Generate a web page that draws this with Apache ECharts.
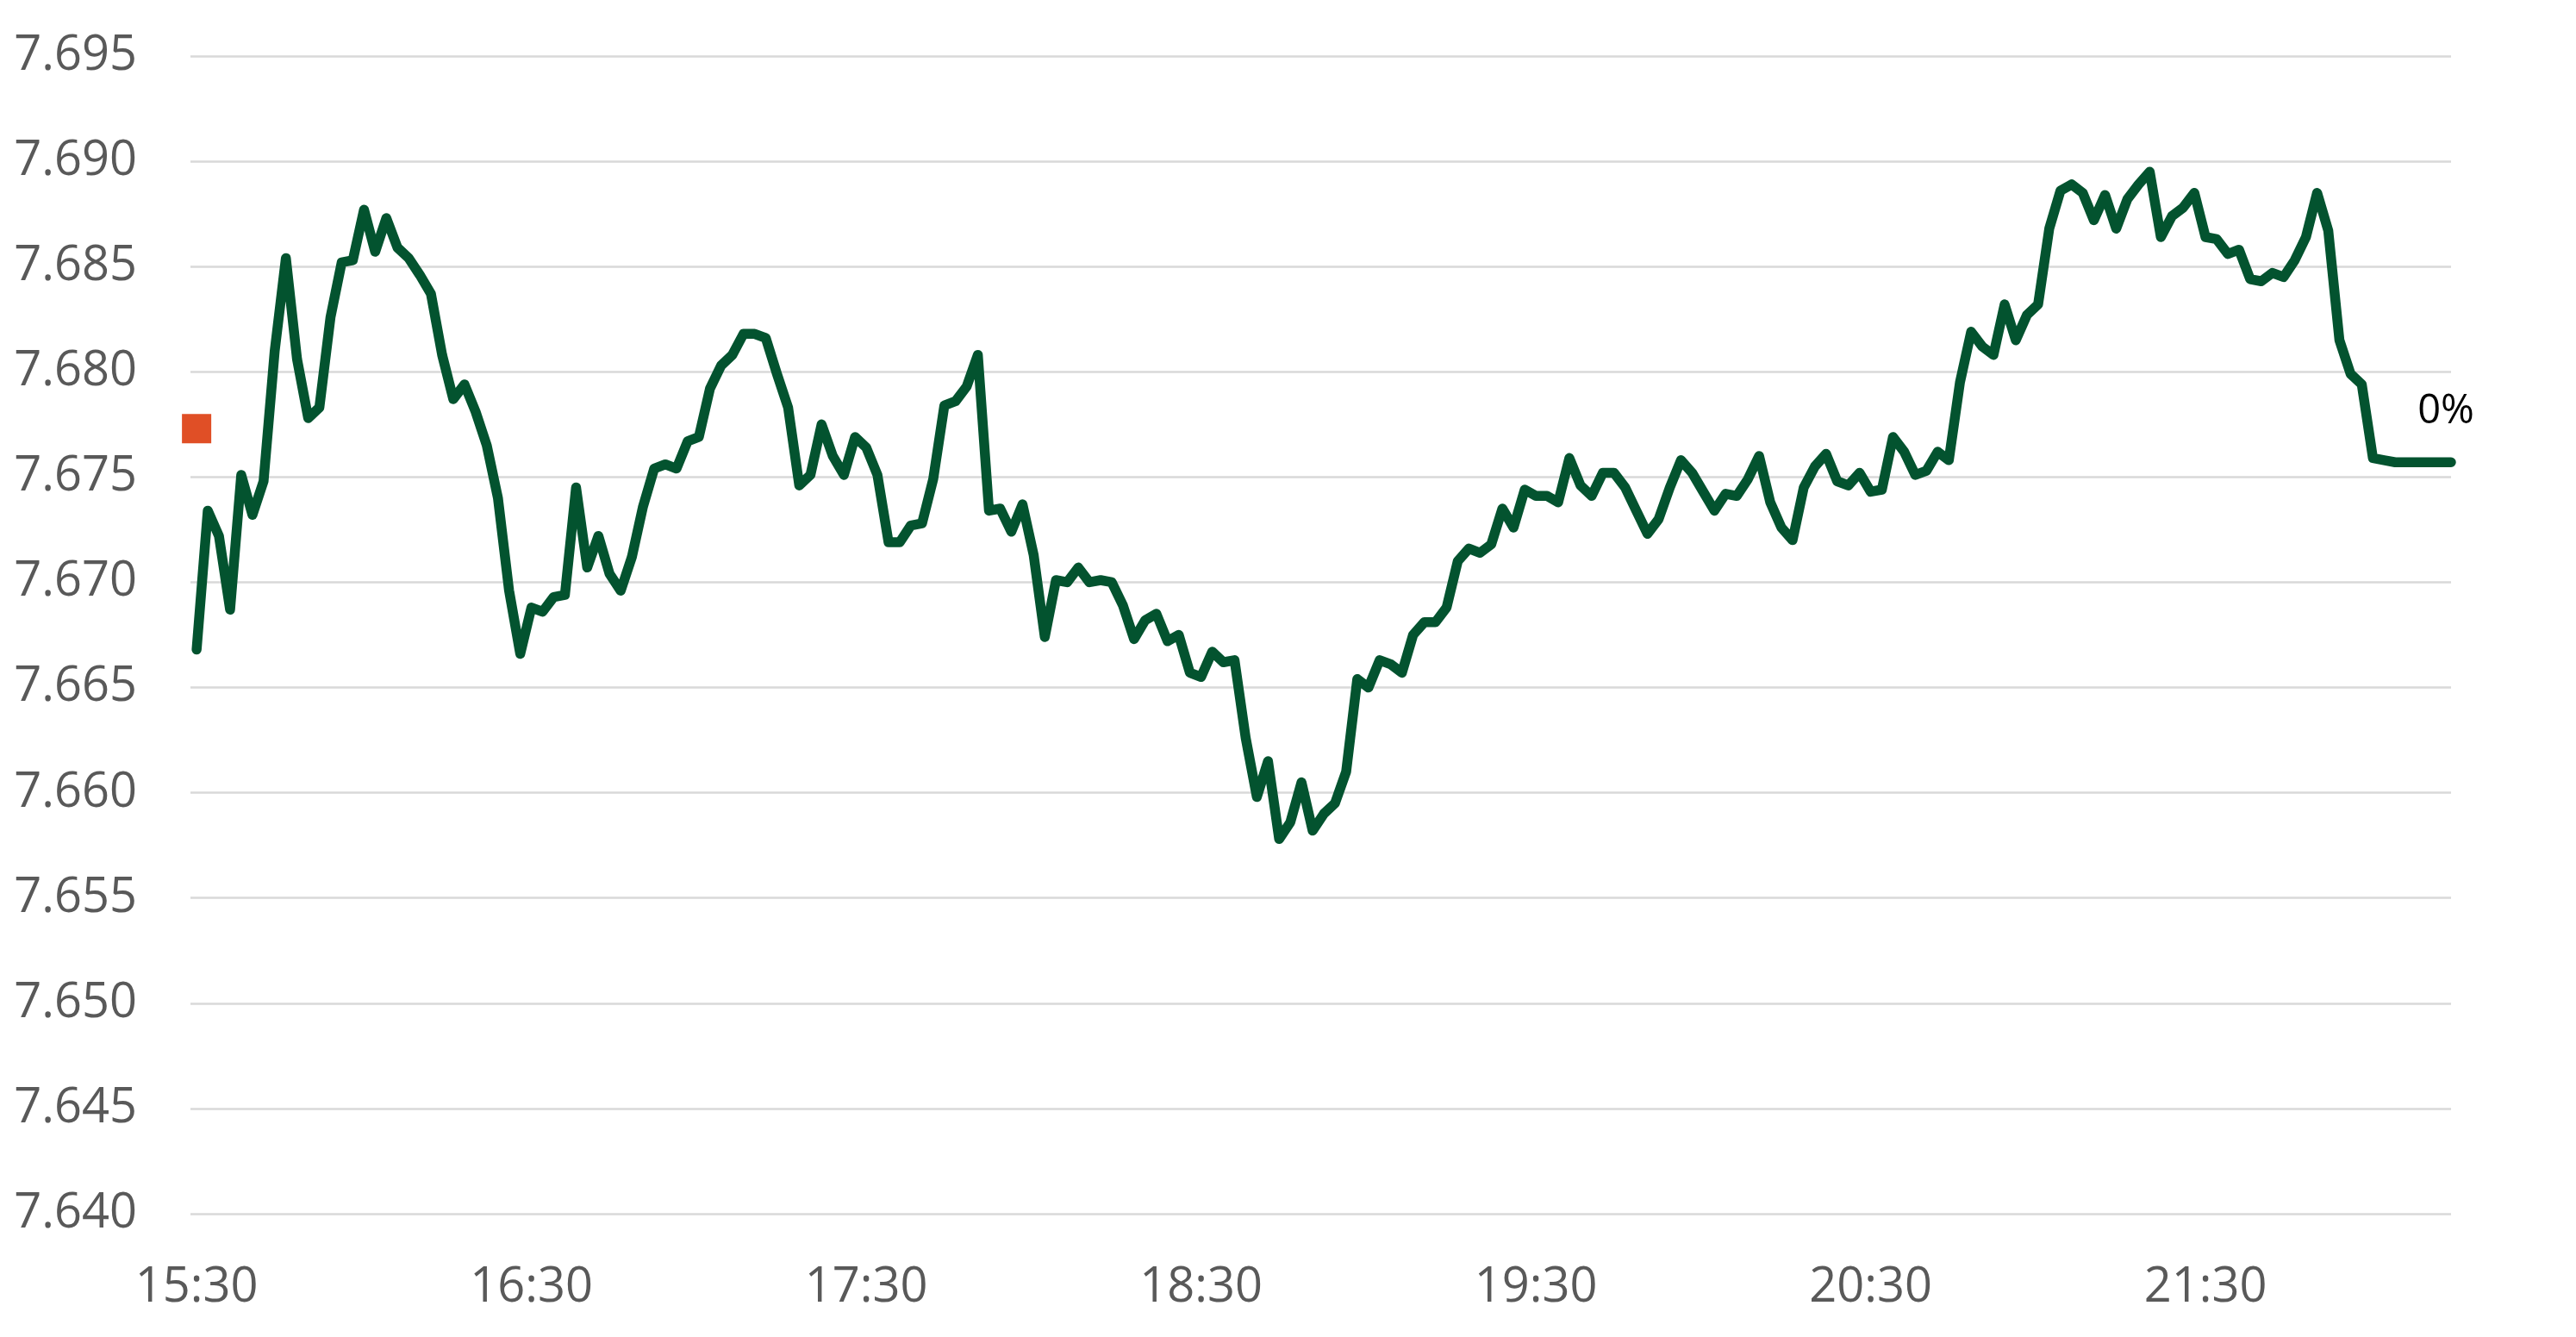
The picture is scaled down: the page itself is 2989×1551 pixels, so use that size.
<!DOCTYPE html>
<html>
<head>
<meta charset="utf-8">
<script src="https://cdn.jsdelivr.net/npm/echarts@6/dist/echarts.min.js"></script>
<style>
  html, body { margin: 0; padding: 0; background: #ffffff; }
  #chart { width: 2989px; height: 1551px; }
</style>
</head>
<body>
<div id="chart"></div>
<script>
// Session start and sampling step (minutes between quotes)
const startTime = '15:30';
const stepMinutes = 2;

// Exchange-rate quotes, one every 2 minutes from 15:30 to 22:14
const rates = [
  7.6668, 7.6734, 7.6722, 7.6687, 7.6751, 7.6732, 7.6748, 7.6810, 7.6854, 7.6806,
  7.6778, 7.6783, 7.6826, 7.6852, 7.6853, 7.6877, 7.6857, 7.6873, 7.6859, 7.6854,
  7.6846, 7.6837, 7.6808, 7.6787, 7.6794, 7.6781, 7.6765, 7.6740, 7.6696, 7.6666,
  7.6688, 7.6686, 7.6693, 7.6694, 7.6745, 7.6707, 7.6722, 7.6704, 7.6696, 7.6712,
  7.6736, 7.6754, 7.6756, 7.6754, 7.6767, 7.6769, 7.6792, 7.6803, 7.6808, 7.6818,
  7.6818, 7.6816, 7.6799, 7.6783, 7.6746, 7.6751, 7.6775, 7.6760, 7.6751, 7.6769,
  7.6764, 7.6751, 7.6719, 7.6719, 7.6727, 7.6728, 7.6749, 7.6784, 7.6786, 7.6793,
  7.6808, 7.6734, 7.6735, 7.6724, 7.6737, 7.6713, 7.6674, 7.6701, 7.6700, 7.6707,
  7.6700, 7.6701, 7.6700, 7.6689, 7.6673, 7.6682, 7.6685, 7.6672, 7.6675, 7.6657,
  7.6655, 7.6667, 7.6662, 7.6663, 7.6626, 7.6598, 7.6615, 7.6578, 7.6586, 7.6605,
  7.6582, 7.6590, 7.6595, 7.6610, 7.6654, 7.6650, 7.6663, 7.6661, 7.6657, 7.6675,
  7.6681, 7.6681, 7.6688, 7.6710, 7.6716, 7.6714, 7.6718, 7.6735, 7.6726, 7.6744,
  7.6741, 7.6741, 7.6738, 7.6759, 7.6746, 7.6741, 7.6752, 7.6752, 7.6745, 7.6734,
  7.6723, 7.6730, 7.6745, 7.6758, 7.6752, 7.6743, 7.6734, 7.6742, 7.6741, 7.6749,
  7.6760, 7.6738, 7.6726, 7.6720, 7.6745, 7.6755, 7.6761, 7.6748, 7.6746, 7.6752,
  7.6743, 7.6744, 7.6769, 7.6762, 7.6751, 7.6753, 7.6762, 7.6758, 7.6795, 7.6819,
  7.6812, 7.6808, 7.6832, 7.6815, 7.6827, 7.6832, 7.6868, 7.6886, 7.6889, 7.6885,
  7.6872, 7.6884, 7.6868, 7.6882, 7.6889, 7.6895, 7.6864, 7.6874, 7.6878, 7.6885,
  7.6864, 7.6863, 7.6856, 7.6858, 7.6844, 7.6843, 7.6847, 7.6845, 7.6853, 7.6864,
  7.6885, 7.6867, 7.6815, 7.6799, 7.6794, 7.6759, 7.6758, 7.6757, 7.6757, 7.6757,
  7.6757, 7.6757, 7.6757
];

// Reference level (previous close) shown by the red square and the "0%" label
const referenceRate = 7.6773;
const referenceLabel = '0%';

// Axis ticks
const xTickLabels = ['15:30', '16:30', '17:30', '18:30', '19:30', '20:30', '21:30'];
const yTickLabels = ['7.640', '7.645', '7.650', '7.655', '7.660', '7.665', '7.670',
                     '7.675', '7.680', '7.685', '7.690', '7.695'];

// ---- build ----
function toMinutes(hhmm) {
  const p = hhmm.split(':');
  return Number(p[0]) * 60 + Number(p[1]);
}
const t0 = toMinutes(startTime);
const lineData = rates.map((v, i) => [i * stepMinutes, v]);
const lastX = (rates.length - 1) * stepMinutes;
const tickValues = xTickLabels.map(s => toMinutes(s) - t0);
const yMin = Number(yTickLabels[0]);
const yMax = Number(yTickLabels[yTickLabels.length - 1]);

const FONT = 'Open Sans';
const chart = echarts.init(document.getElementById('chart'), null, { renderer: 'canvas' });
chart.setOption({
  animation: false,
  backgroundColor: '#ffffff',
  grid: { left: 221, right: 145, top: 65, bottom: 143, containLabel: false },
  xAxis: {
    type: 'value',
    min: -1.1,
    max: lastX,
    axisLine: { show: false },
    axisTick: { show: false },
    splitLine: { show: false },
    axisLabel: {
      customValues: tickValues,
      margin: 58,
      color: '#595959',
      fontFamily: FONT,
      fontSize: 56,
      formatter: function (v) {
        const idx = tickValues.indexOf(Math.round(v));
        return idx >= 0 ? xTickLabels[idx] : '';
      }
    }
  },
  yAxis: {
    type: 'value',
    min: yMin,
    max: yMax,
    interval: 0.005,
    axisLine: { show: false },
    axisTick: { show: false },
    splitLine: { show: true, lineStyle: { color: '#D9D9D9', width: 2.5 } },
    axisLabel: {
      margin: 62,
      color: '#595959',
      fontFamily: FONT,
      fontSize: 56,
      formatter: function (v) { return v.toFixed(3); }
    }
  },
  series: [
    {
      type: 'line',
      data: lineData,
      showSymbol: false,
      symbol: 'none',
      clip: false,
      lineStyle: { color: '#03532F', width: 11.5, cap: 'round', join: 'round' },
      z: 3
    },
    {
      type: 'scatter',
      clip: false,
      data: [[0, referenceRate]],
      symbol: 'rect',
      symbolSize: 34,
      itemStyle: { color: '#E04F26', opacity: 1 },
      z: 4
    },
    {
      type: 'scatter',
      clip: false,
      data: [[lastX, referenceRate]],
      symbolSize: 0,
      itemStyle: { color: 'rgba(0,0,0,0)', opacity: 1 },
      label: {
        show: true,
        position: 'top',
        distance: -4,
        offset: [-6, 0],
        formatter: referenceLabel,
        color: '#000000',
        opacity: 1,
        fontFamily: FONT,
        fontSize: 47
      },
      z: 5
    }
  ]
});
</script>
</body>
</html>
